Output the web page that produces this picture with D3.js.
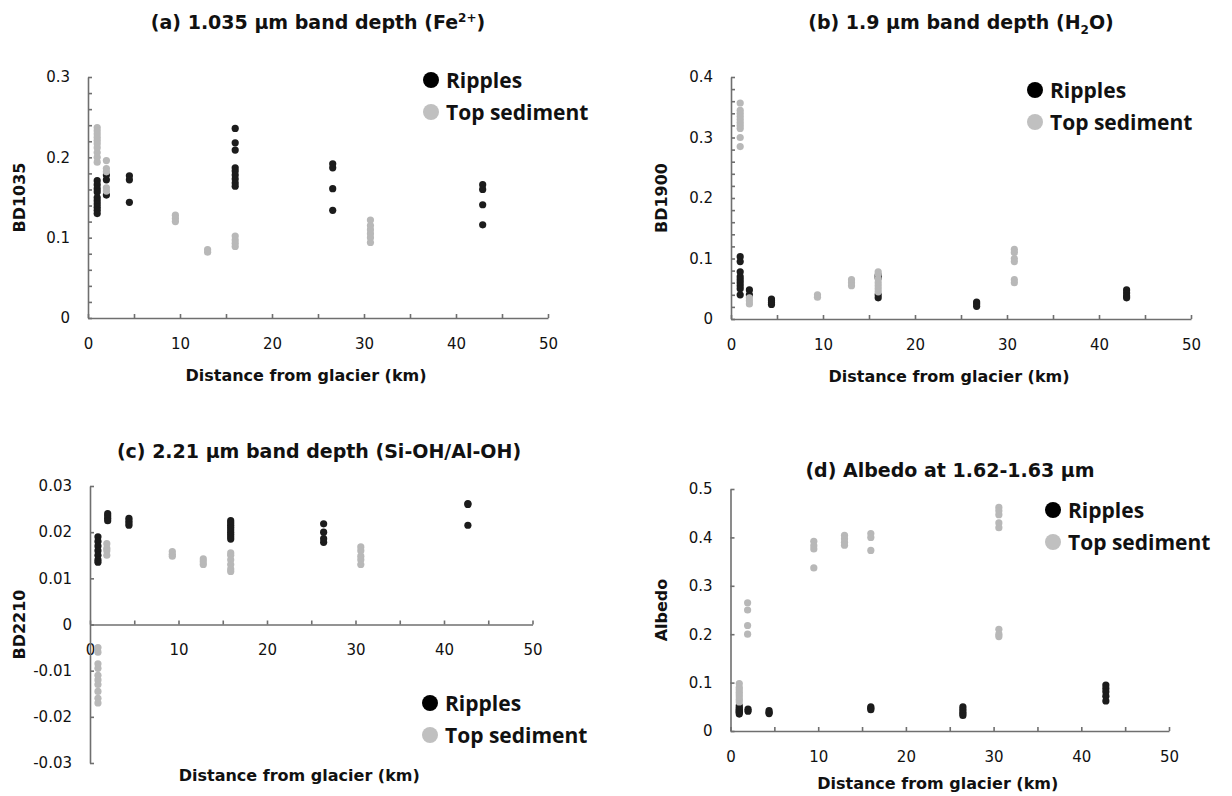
<!DOCTYPE html>
<html>
<head>
<meta charset="utf-8">
<script src="https://cdn.jsdelivr.net/npm/d3@7"></script>
<style>
  body { margin: 0; background: #fff; }
  svg { display: block; }
</style>
</head>
<body>
<script>
// ---- data: [distance km, value] ----
const ripplesA = [
  [1, 0.171], [1, 0.166], [1, 0.161], [1, 0.157], [1, 0.150], [1, 0.146], [1, 0.142], [1, 0.138], [1, 0.134], [1, 0.130],
  [2, 0.178], [2, 0.172], [2, 0.153],
  [4.5, 0.177], [4.5, 0.172], [4.5, 0.144],
  [16, 0.236], [16, 0.218], [16, 0.209], [16, 0.187], [16, 0.183], [16, 0.178], [16, 0.173], [16, 0.168], [16, 0.164],
  [26.6, 0.192], [26.6, 0.187], [26.6, 0.161], [26.6, 0.134],
  [42.9, 0.166], [42.9, 0.160], [42.9, 0.141], [42.9, 0.116]
];
const topA = [
  [1, 0.237], [1, 0.233], [1, 0.229], [1, 0.225], [1, 0.221], [1, 0.217], [1, 0.212], [1, 0.206], [1, 0.200], [1, 0.194],
  [2, 0.196], [2, 0.186], [2, 0.182], [2, 0.162], [2, 0.158],
  [9.5, 0.128], [9.5, 0.124], [9.5, 0.120],
  [13, 0.085], [13, 0.082],
  [16, 0.102], [16, 0.097], [16, 0.093], [16, 0.089],
  [30.7, 0.122], [30.7, 0.115], [30.7, 0.110], [30.7, 0.105], [30.7, 0.100], [30.7, 0.094]
];

const ripplesB = [
  [1, 0.103], [1, 0.095], [1, 0.078], [1, 0.070], [1, 0.065], [1, 0.060], [1, 0.055], [1, 0.050], [1, 0.040],
  [2, 0.048], [2, 0.040],
  [4.4, 0.033], [4.4, 0.030], [4.4, 0.027], [4.4, 0.024],
  [16, 0.072], [16, 0.068], [16, 0.040], [16, 0.035],
  [26.7, 0.028], [26.7, 0.025], [26.7, 0.021],
  [43, 0.048], [43, 0.043], [43, 0.038], [43, 0.035]
];
const topB = [
  [1, 0.357], [1, 0.345], [1, 0.340], [1, 0.335], [1, 0.330], [1, 0.325], [1, 0.320], [1, 0.315], [1, 0.300], [1, 0.285],
  [2, 0.035], [2, 0.030], [2, 0.025],
  [9.4, 0.040], [9.4, 0.036],
  [13.1, 0.065], [13.1, 0.060], [13.1, 0.055],
  [16, 0.078], [16, 0.074], [16, 0.066], [16, 0.060], [16, 0.055], [16, 0.050], [16, 0.045],
  [30.8, 0.115], [30.8, 0.110], [30.8, 0.100], [30.8, 0.095], [30.8, 0.065], [30.8, 0.060]
];

const ripplesC = [
  [0.9, 0.019], [0.9, 0.018], [0.9, 0.017], [0.9, 0.016], [0.9, 0.015], [0.9, 0.014], [0.9, 0.0135],
  [2, 0.024], [2, 0.0235], [2, 0.023], [2, 0.0225],
  [4.4, 0.023], [4.4, 0.0225], [4.4, 0.022], [4.4, 0.0215],
  [15.9, 0.0225], [15.9, 0.022], [15.9, 0.0215], [15.9, 0.021], [15.9, 0.0205], [15.9, 0.020], [15.9, 0.0195], [15.9, 0.019], [15.9, 0.0185],
  [26.4, 0.0218], [26.4, 0.020], [26.4, 0.0186], [26.4, 0.0178],
  [42.7, 0.0262], [42.7, 0.026], [42.7, 0.0215]
];
const topC = [
  [0.9, -0.005], [0.9, -0.006], [0.9, -0.0085], [0.9, -0.0095], [0.9, -0.011], [0.9, -0.012], [0.9, -0.013], [0.9, -0.0145], [0.9, -0.016], [0.9, -0.017],
  [1.9, 0.0175], [1.9, 0.0165], [1.9, 0.016], [1.9, 0.015],
  [9.3, 0.0158], [9.3, 0.0152], [9.3, 0.0148],
  [12.8, 0.0142], [12.8, 0.0136], [12.8, 0.013],
  [15.9, 0.0155], [15.9, 0.015], [15.9, 0.014], [15.9, 0.013], [15.9, 0.012], [15.9, 0.0115],
  [30.6, 0.0168], [30.6, 0.016], [30.6, 0.0148], [30.6, 0.014], [30.6, 0.013]
];

const ripplesD = [
  [1, 0.052], [1, 0.048], [1, 0.045], [1, 0.042], [1, 0.040], [1, 0.038], [1, 0.035],
  [2, 0.045], [2, 0.041],
  [4.4, 0.042], [4.4, 0.038], [4.4, 0.036],
  [16, 0.050], [16, 0.047], [16, 0.044],
  [26.5, 0.050], [26.5, 0.045], [26.5, 0.040], [26.5, 0.036], [26.5, 0.032],
  [42.8, 0.095], [42.8, 0.088], [42.8, 0.081], [42.8, 0.072], [42.8, 0.062]
];
const topD = [
  [1, 0.098], [1, 0.090], [1, 0.085], [1, 0.080], [1, 0.075], [1, 0.070], [1, 0.065], [1, 0.060],
  [1.95, 0.265], [1.95, 0.250], [1.95, 0.218], [1.95, 0.200],
  [9.5, 0.392], [9.5, 0.383], [9.5, 0.376], [9.5, 0.337],
  [13, 0.404], [13, 0.397], [13, 0.390], [13, 0.384],
  [16, 0.408], [16, 0.400], [16, 0.373],
  [30.6, 0.462], [30.6, 0.455], [30.6, 0.447], [30.6, 0.430], [30.6, 0.420], [30.6, 0.210], [30.6, 0.200], [30.6, 0.195]
];

const seriesNames = ["Ripples", "Top sediment"];
const seriesColors = ["#1c1c1c", "#b8b8b8"];
const legendColors = ["#000", "#c0c0c0"];
const xLabel = "Distance from glacier (km)";

let width = 1232, height = 796;
let svg = d3.select("body").append("svg").attr("width", width).attr("height", height);

function ticksFrom(min, max, step) {
  let n = Math.round((max - min) / step);
  return d3.range(n + 1).map(i => +(min + i * step).toFixed(4));
}

function panel(p) {
  let g = svg.append("g");
  let x = d3.scaleLinear().domain([0, 50]).range(p.xr);
  let y = d3.scaleLinear().domain(p.yd).range(p.yr);

  // title
  let t = g.append("text")
    .attr("x", p.tx).attr("y", p.ty)
    .attr("text-anchor", "middle")
    .attr("font-family", "DejaVu Sans").attr("font-weight", "bold").attr("font-size", 19)
    .attr("fill", "#111");
  p.title(t);

  // axes, ticks point inward
  let isMajor = d => Math.abs(d / p.major - Math.round(d / p.major)) < 1e-6;
  let xAxis = d3.axisBottom(x).tickValues(ticksFrom(0, 50, 5)).tickSizeInner(-4).tickSizeOuter(0)
    .tickPadding(20).tickFormat(d => d % 10 === 0 ? d : "");
  let yAxis = d3.axisLeft(y).tickValues(ticksFrom(p.yd[0], p.yd[1], p.minor)).tickSizeInner(-4).tickSizeOuter(0)
    .tickPadding(18).tickFormat(d => isMajor(d) ? String(+d.toFixed(3)) : "");

  let ax = g.append("g").attr("transform", `translate(0,${y(0)})`).call(xAxis);
  let ay = g.append("g").attr("transform", `translate(${x(0)},0)`).call(yAxis);
  [ax, ay].forEach(a => {
    a.select(".domain").attr("stroke", "#6f6f6f").attr("stroke-width", 1.6);
    a.selectAll(".tick line").attr("stroke", "#6f6f6f").attr("stroke-width", 1.6);
    a.selectAll(".tick text").attr("font-family", "DejaVu Sans").attr("font-size", 15).attr("fill", "#111");
  });

  // axis titles
  g.append("text")
    .attr("x", (p.xr[0] + p.xr[1]) / 2 - 12).attr("y", p.xty)
    .attr("text-anchor", "middle")
    .attr("font-family", "DejaVu Sans").attr("font-weight", "bold").attr("font-size", 16)
    .attr("fill", "#111").text(xLabel);
  g.append("text")
    .attr("transform", `translate(${p.ytx},${(p.yr[0] + p.yr[1]) / 2}) rotate(-90)`)
    .attr("dy", "0.35em")
    .attr("text-anchor", "middle")
    .attr("font-family", "DejaVu Sans").attr("font-weight", "bold").attr("font-size", 16)
    .attr("fill", "#111").text(p.ylabel);

  // points: ripples first, top sediment drawn over
  [p.ripples, p.top].forEach((data, i) => {
    g.append("g").selectAll("circle").data(data).join("circle")
      .attr("cx", d => x(d[0])).attr("cy", d => y(d[1]))
      .attr("r", 3.6).attr("fill", seriesColors[i]);
  });

  // legend
  let lg = g.append("g").attr("transform", `translate(${p.lx},${p.ly})`);
  seriesNames.forEach((name, i) => {
    lg.append("circle").attr("cx", 0).attr("cy", i * 32).attr("r", 8).attr("fill", legendColors[i]);
    lg.append("text").attr("x", 15).attr("y", i * 32).attr("dy", "0.36em")
      .attr("font-family", "Open Sans").attr("font-weight", "bold").attr("font-size", 21)
      .attr("fill", "#111").text(name);
  });
}

panel({
  xr: [88, 548], yd: [0, 0.3], yr: [318, 77], minor: 0.02, major: 0.1,
  tx: 318, ty: 29, xty: 381, ytx: 19, ylabel: "BD1035", lx: 431, ly: 80,
  ripples: ripplesA, top: topA,
  title: t => {
    t.append("tspan").text("(a) 1.035 µm band depth (Fe");
    t.append("tspan").attr("font-size", 12).attr("dy", -7).text("2+");
    t.append("tspan").attr("dy", 7).text(")");
  }
});

panel({
  xr: [731, 1191], yd: [0, 0.4], yr: [319, 77], minor: 0.02, major: 0.1,
  tx: 961, ty: 29, xty: 382, ytx: 661, ylabel: "BD1900", lx: 1035, ly: 90,
  ripples: ripplesB, top: topB,
  title: t => {
    t.append("tspan").text("(b) 1.9 µm band depth (H");
    t.append("tspan").attr("font-size", 12).attr("dy", 5).text("2");
    t.append("tspan").attr("dy", -5).text("O)");
  }
});

panel({
  xr: [90, 532.5], yd: [-0.03, 0.03], yr: [763, 486], minor: 0.01, major: 0.01,
  tx: 319, ty: 458, xty: 781, ytx: 19, ylabel: "BD2210", lx: 430, ly: 703,
  ripples: ripplesC, top: topC,
  title: t => t.text("(c) 2.21 µm band depth (Si-OH/Al-OH)")
});

panel({
  xr: [730.5, 1169], yd: [0, 0.5], yr: [731, 489], minor: 0.1, major: 0.1,
  tx: 950, ty: 477, xty: 789, ytx: 661, ylabel: "Albedo", lx: 1053, ly: 510,
  ripples: ripplesD, top: topD,
  title: t => t.text("(d) Albedo at 1.62-1.63 µm")
});
</script>
</body>
</html>
